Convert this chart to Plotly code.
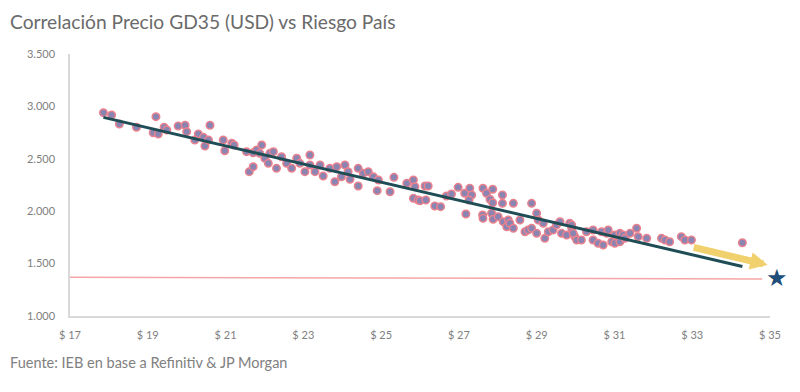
import numpy as np
import plotly.graph_objects as go

# --- data ---
precio_gd35 = [
    17.86, 18.07, 18.27, 18.71, 19.21, 19.14, 19.27, 19.42, 19.49, 19.78,
    19.96, 20.00, 20.60, 20.30, 20.43, 20.47, 20.56, 20.21, 20.94, 20.98,
    21.16, 21.22, 21.54, 21.71, 21.80, 21.61, 21.71, 21.93, 21.88, 22.01,
    22.14, 22.23, 22.10, 22.31, 22.44, 22.57, 22.70, 22.83, 22.91, 23.17,
    23.04, 23.17, 23.30, 23.43, 23.51, 23.68, 23.81, 23.86, 24.07, 23.98,
    24.15, 24.20, 24.41, 24.41, 24.54, 24.67, 24.80, 24.93, 24.90, 25.23,
    25.33, 25.66, 25.83, 25.87, 25.83, 25.95, 26.13, 26.21, 26.00, 26.15,
    26.38, 26.53, 26.68, 26.81, 26.98, 27.15, 27.28, 27.33, 27.26, 27.18,
    27.62, 27.71, 27.87, 27.80, 27.87, 28.12, 28.12, 28.40, 27.61, 27.62,
    27.84, 27.88, 28.01, 28.14, 28.27, 28.23, 28.31, 28.40, 28.57, 28.70,
    28.78, 28.87, 28.87, 29.00, 29.04, 29.00, 29.17, 29.21, 29.30, 29.42,
    29.51, 29.60, 29.64, 29.77, 29.85, 29.90, 29.98, 30.03, 29.90, 29.94,
    30.15, 30.28, 30.45, 30.45, 30.58, 30.71, 30.67, 30.80, 30.84, 30.93,
    31.01, 31.01, 31.14, 31.14, 31.22, 31.27, 31.40, 31.57, 31.61, 31.83,
    32.21, 32.30, 32.42, 32.72, 32.81, 32.98, 34.29,
]
riesgo_pais = [
    2940, 2918, 2832, 2801, 2902, 2749, 2737, 2801, 2775, 2813,
    2820, 2759, 2820, 2737, 2705, 2622, 2679, 2679, 2679, 2577,
    2648, 2632, 2568, 2558, 2584, 2377, 2425, 2632, 2552, 2505,
    2552, 2568, 2457, 2409, 2520, 2457, 2409, 2505, 2457, 2536,
    2377, 2441, 2377, 2441, 2336, 2409, 2281, 2425, 2441, 2329,
    2377, 2304, 2409, 2240, 2362, 2377, 2329, 2298, 2196, 2186,
    2323, 2266, 2298, 2234, 2123, 2107, 2240, 2240, 2100, 2107,
    2050, 2043, 2145, 2164, 2228, 2171, 2219, 2155, 2107, 1973,
    2219, 2171, 2209, 2114, 2081, 2155, 2075, 2075, 1964, 1932,
    1980, 1923, 1948, 1900, 1916, 1852, 1885, 1837, 1916, 1804,
    1821, 2075, 1837, 1980, 1916, 1789, 1885, 1741, 1804, 1821,
    1868, 1900, 1789, 1773, 1885, 1837, 1757, 1725, 1868, 1789,
    1725, 1804, 1821, 1725, 1694, 1677, 1804, 1789, 1821, 1709,
    1773, 1694, 1789, 1709, 1773, 1741, 1789, 1837, 1757, 1741,
    1741, 1725, 1709, 1757, 1725, 1725, 1699,
]

# reference level (red line), target point (star) and projection arrow
linea_ref_x = [17.0, 34.8]
linea_ref_y = [1370, 1353]
objetivo_x = 35.17
objetivo_y = 1363
flecha_x = [33.0, 34.94]
flecha_y = [1658, 1487]

x_range = [17, 35]
y_range = [1000, 3500]
x_ticks = [17, 19, 21, 23, 25, 27, 29, 31, 33, 35]
x_tick_labels = ["$ 17", "$ 19", "$ 21", "$ 23", "$ 25", "$ 27", "$ 29", "$ 31", "$ 33", "$ 35"]
y_ticks = [1000, 1500, 2000, 2500, 3000, 3500]

titulo = "Correlación Precio GD35 (USD) vs Riesgo País"
fuente = "Fuente: IEB en base a Refinitiv & JP Morgan"

# linear trend (as in Excel trendline)
xs = np.array(precio_gd35)
ys = np.array(riesgo_pais)
m, b = np.polyfit(xs, ys, 1)
trend_x = [xs.min(), xs.max()]
trend_y = [m * v + b for v in trend_x]

FONT = "Lato, 'Open Sans', sans-serif"
GRAY = "#808080"

fig = go.Figure()

fig.add_trace(go.Scatter(
    x=linea_ref_x, y=linea_ref_y, mode="lines",
    line=dict(color="#f4a6a6", width=1.5), hoverinfo="skip", showlegend=False,
))

fig.add_trace(go.Scatter(
    x=precio_gd35, y=riesgo_pais, mode="markers",
    marker=dict(size=7.5, color="#8a84b2", line=dict(color="#e9828e", width=1.5)),
    showlegend=False,
))

fig.add_trace(go.Scatter(
    x=trend_x, y=trend_y, mode="lines",
    line=dict(color="#1f4d56", width=3), showlegend=False,
))

fig.add_annotation(
    x=flecha_x[1], y=flecha_y[1], ax=flecha_x[0], ay=flecha_y[0],
    xref="x", yref="y", axref="x", ayref="y",
    showarrow=True, arrowhead=2, arrowsize=0.5, arrowwidth=7,
    arrowcolor="#f1d06e", text="",
)

# star sits just past the axis end, so it is placed in paper units computed from its data value
fig.add_annotation(
    x=(objetivo_x - x_range[0]) / (x_range[1] - x_range[0]),
    y=(objetivo_y - y_range[0]) / (y_range[1] - y_range[0]),
    xref="paper", yref="paper", text="★",
    showarrow=False, xanchor="center", yanchor="middle",
    font=dict(size=24, color="#1f4e79", family="DejaVu Sans"),
)

# the page body adds an 8px margin, so the figure is 792x384 placed at (8, 8)
fig.update_layout(
    width=792, height=384,
    margin=dict(l=62, r=30, t=46, b=76, autoexpand=False),
    paper_bgcolor="white", plot_bgcolor="white",
    separators=",.",
    font=dict(family=FONT, color=GRAY, size=11),
    showlegend=False,
)

# title (as an annotation so it sits fully inside the figure)
fig.add_annotation(
    text=titulo, xref="paper", yref="paper", x=-62 / 700, y=(262 + 46 - 13) / 262,
    xanchor="left", yanchor="middle", showarrow=False,
    font=dict(family=FONT, size=19.2, color="#6a6a6a"),
)

fig.update_xaxes(
    range=x_range, tickvals=x_ticks, ticktext=x_tick_labels, automargin=False,
    showgrid=False, zeroline=False, showline=True, linecolor="#d9d9d9", linewidth=1.5,
    ticks="", ticklabelstandoff=8, tickfont=dict(size=11, color=GRAY),
)
fig.update_yaxes(
    range=y_range, tickvals=y_ticks, tickformat=",d", automargin=False,
    showgrid=False, zeroline=False, showline=True, linecolor="#d9d9d9", linewidth=1.5,
    ticks="", ticklabelstandoff=11, tickfont=dict(size=11, color=GRAY),
)

fig.add_annotation(
    text=fuente, xref="paper", yref="paper", x=-62 / 700, y=(308 - 354) / 262,
    xanchor="left", yanchor="middle", showarrow=False,
    font=dict(family=FONT, size=14.5, color=GRAY),
)

fig.write_html("out.html")
